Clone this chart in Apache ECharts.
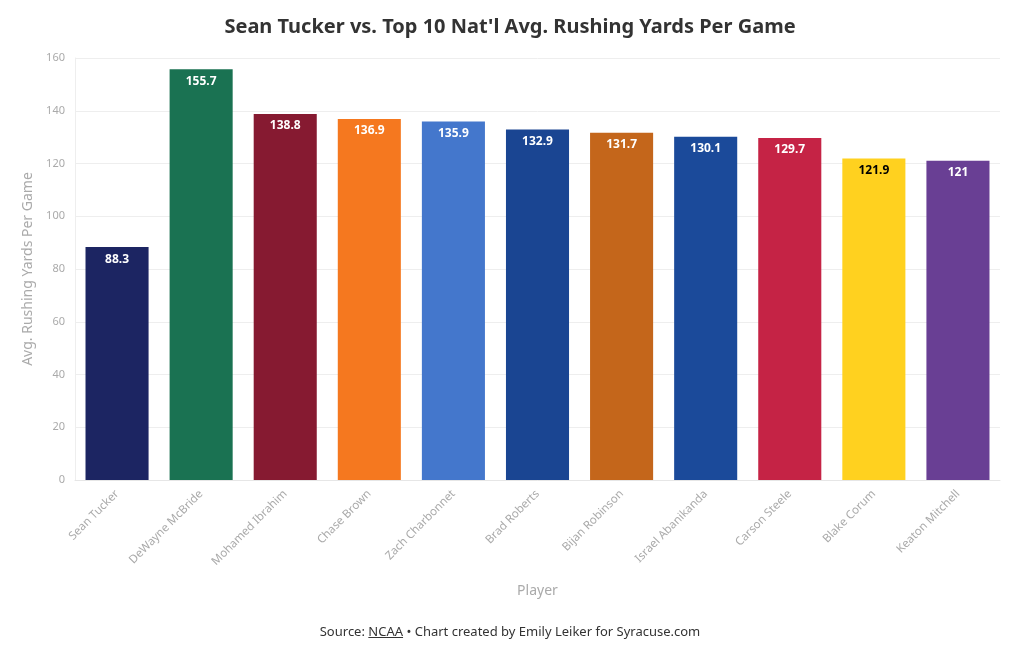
<!DOCTYPE html>
<html><head><meta charset="utf-8">
<script src="https://cdn.jsdelivr.net/npm/echarts@6/dist/echarts.min.js"></script>
<style>html,body{margin:0;padding:0;background:#fff;}#c{width:1020px;height:650px;}
#src{position:absolute;left:0;width:1020px;top:622px;text-align:center;font-family:"Source Sans Pro","Noto Sans",sans-serif;font-size:13px;color:#333;}
#src u{text-decoration:underline;}</style>
</head><body>
<div id="c"></div>
<div id="src">Source: <u>NCAA</u> • Chart created by Emily Leiker for Syracuse.com</div>
<script>
const players = ["Sean Tucker","DeWayne McBride","Mohamed Ibrahim","Chase Brown","Zach Charbonnet","Brad Roberts","Bijan Robinson","Israel Abanikanda","Carson Steele","Blake Corum","Keaton Mitchell"];
const yardsPerGame = [88.3,155.7,138.8,136.9,135.9,132.9,131.7,130.1,129.7,121.9,121];
const barColors = ["#1c2562","#1a7252","#861a31","#f5781f","#4477cc","#1a4592","#c4661b","#1b4a9a","#c52345","#ffd11f","#693f94"];
const labelColors = ["#fff","#fff","#fff","#fff","#fff","#fff","#fff","#fff","#fff","#000","#fff"];
const font = '"Source Sans Pro","Noto Sans",sans-serif';
const chart = echarts.init(document.getElementById('c'));
chart.setOption({
  animation:false,
  title:{text:"Sean Tucker vs. Top 10 Nat'l Avg. Rushing Yards Per Game",left:'center',top:12,
    textStyle:{fontFamily:font,fontWeight:'bold',fontSize:20,color:'#333'}},
  grid:{left:75,right:20,top:58,bottom:170},
  xAxis:{type:'category',data:players,name:'Player',nameLocation:'middle',nameGap:104,
    nameTextStyle:{fontFamily:font,fontSize:14,color:'#aaa'},
    axisLine:{lineStyle:{color:'#e6e6e6'}},
    axisTick:{alignWithLabel:true,length:5,lineStyle:{color:'#e6e6e6'}},
    axisLabel:{rotate:45,fontFamily:font,fontSize:11.5,color:'#aaa',margin:12}},
  yAxis:{type:'value',min:0,max:160,interval:20,name:'Avg. Rushing Yards Per Game',nameLocation:'middle',nameGap:40,
    nameTextStyle:{fontFamily:font,fontSize:14,color:'#aaa'},
    axisLine:{show:true,lineStyle:{color:'#eeeeee'}},axisTick:{show:false},
    axisLabel:{fontFamily:font,fontSize:11,color:'#aaa',margin:10},
    splitLine:{lineStyle:{color:'#eeeeee'}}},
  series:[{type:'bar',barCategoryGap:'25%',
    data:yardsPerGame.map((v,i)=>({value:v,itemStyle:{color:barColors[i]},label:{color:labelColors[i]}})),
    label:{show:true,position:'insideTop',distance:6,fontFamily:font,fontWeight:'bold',fontSize:12}}]
});
</script>
</body></html>
